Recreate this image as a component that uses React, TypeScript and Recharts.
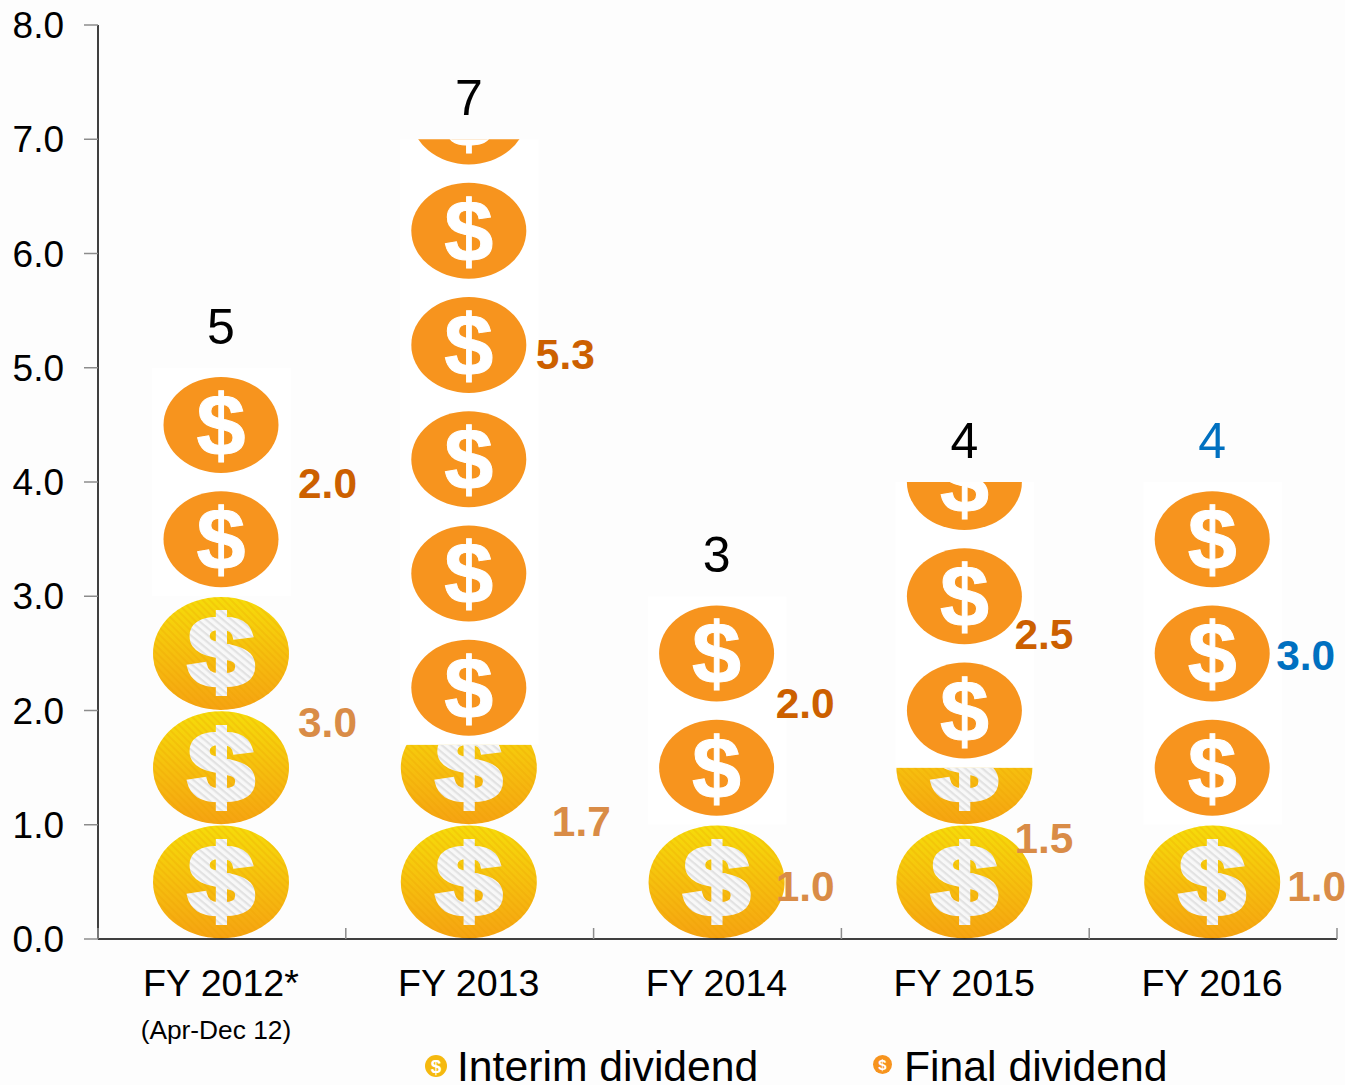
import { BarChart, Bar, XAxis, YAxis, Legend, LabelList } from "recharts";

const categories = ["FY 2012*", "FY 2013", "FY 2014", "FY 2015", "FY 2016"];
const subLabels = ["(Apr-Dec 12)", "", "", "", ""];
const interimValues = [3.0, 1.7, 1.0, 1.5, 1.0];
const finalValues = [2.0, 5.3, 2.0, 2.5, 3.0];
const totals = [5, 7, 3, 4, 4];
const yTicks = [0, 1, 2, 3, 4, 5, 6, 7, 8];

// hand placed value labels, relative to the bar's centre and the top of its segment
const interimLabelOffsets = [
  [106, 126],
  [112, 77],
  [88, 62],
  [79, 71],
  [104, 62],
];
const finalLabelOffsets = [
  [106, 116],
  [96, 215],
  [88, 107],
  [79, 152],
  [93, 173],
];

const totalColors = ["#000", "#000", "#000", "#000", "#0070c0"];
const finalLabelColors = ["#cc6000", "#cc6000", "#cc6000", "#cc6000", "#0070c0"];
const interimLabelColor = "#d98c47";

const FONT = "'Liberation Sans', Arial, sans-serif";
const WIDTH = 1345;
const HEIGHT = 1085;
const PLOT_WIDTH = 1239;

const chartData = categories.map((name, i) => ({
  name,
  sub: subLabels[i],
  interim: interimValues[i],
  final: finalValues[i],
  total: totals[i],
}));

const InterimCoins = (props: any) => {
  const { x, y, width, height, index, value } = props;
  const v = Array.isArray(value) ? value[1] - value[0] : value;
  const unit = height / v;
  const cx = x + width / 2 - 0.5;
  const bottom = y + height;
  const coins = Array.from({ length: Math.ceil(v) }, (_, i) => bottom - (i + 0.5) * unit);
  return (
    <g clipPath={`url(#clip-interim-${index})`}>
      <clipPath id={`clip-interim-${index}`}>
        <rect x={x - 2} y={y} width={width + 4} height={height} />
      </clipPath>
      {coins.map((cy) => (
        <g key={cy}>
          <ellipse cx={cx} cy={cy} rx={68} ry={56.5} fill="url(#interimGrad)" />
          <ellipse cx={cx} cy={cy} rx={68} ry={56.5} fill="url(#coinStripes)" />
          <text
            transform={`translate(${cx},${cy + 34}) scale(1.2,1)`}
            textAnchor="middle"
            fontFamily={FONT}
            fontWeight="bold"
            fontSize={100}
            fill="url(#dollarStripes)"
            stroke="url(#dollarStripes)"
            strokeWidth={4}
          >
            $
          </text>
        </g>
      ))}
    </g>
  );
};

const FinalCoins = (props: any) => {
  const { x, y, width, height, index, value } = props;
  const v = Array.isArray(value) ? value[1] - value[0] : value;
  const unit = height / v;
  const cx = x + width / 2 - 0.5;
  const bottom = y + height;
  const coins = Array.from({ length: Math.ceil(v) }, (_, i) => bottom - (i + 0.5) * unit);
  return (
    <g clipPath={`url(#clip-final-${index})`}>
      <clipPath id={`clip-final-${index}`}>
        <rect x={x - 1} y={y} width={width + 2} height={height} />
      </clipPath>
      <rect x={x - 1} y={y} width={width + 2} height={height} fill="#fff" />
      {coins.map((cy) => (
        <g key={cy}>
          <ellipse cx={cx} cy={cy} rx={57.5} ry={48} fill="#f7941e" />
          <text
            x={cx}
            y={cy + 31}
            textAnchor="middle"
            fontFamily={FONT}
            fontWeight="bold"
            fontSize={88}
            fill="#fff"
            stroke="#fff"
            strokeWidth={1}
          >
            $
          </text>
        </g>
      ))}
    </g>
  );
};

const sideLabel = (offsets: number[][], colorOf: (i: number) => string, values: number[]) => (props: any) => {
  const { x, y, width, index } = props;
  const [dx, dy] = offsets[index];
  return (
    <text
      x={x + width / 2 + dx}
      y={y + dy}
      textAnchor="middle"
      dominantBaseline="central"
      fontFamily={FONT}
      fontWeight="bold"
      fontSize={42.4}
      fill={colorOf(index)}
    >
      {values[index].toFixed(1)}
    </text>
  );
};

const TotalLabel = (props: any) => {
  const { x, y, width, index } = props;
  return (
    <text
      x={x + width / 2 - 0.5}
      y={y - 41}
      textAnchor="middle"
      dominantBaseline="central"
      fontFamily={FONT}
      fontSize={50}
      fill={totalColors[index]}
    >
      {totals[index]}
    </text>
  );
};

const CategoryTick = (props: any) => {
  const { x, y, index, payload } = props;
  const band = PLOT_WIDTH / categories.length;
  const edges = index === categories.length - 1 ? [x - band / 2, x + band / 2] : [x - band / 2];
  return (
    <g>
      {edges.map((ex) => (
        <line key={ex} x1={ex} x2={ex} y1={y} y2={y - 11} stroke="#8c8c8c" strokeWidth={1.5} />
      ))}
      <text x={x - 1} y={y + 57} textAnchor="middle" fontFamily={FONT} fontSize={37.6} fill="#000">
        {payload.value}
      </text>
      {subLabels[index] ? (
        <text x={x - 6} y={y + 100} textAnchor="middle" fontFamily={FONT} fontSize={26.3} fill="#000">
          {subLabels[index]}
        </text>
      ) : null}
    </g>
  );
};

const LegendCoin = ({ fill, r, size }: { fill: string; r: number; size: number }) => (
  <svg width={r * 2} height={r * 2} style={{ position: "absolute", left: 0, top: 0 }}>
    <circle cx={r} cy={r} r={r} fill={fill} />
    <text
      x={r}
      y={r + size * 0.35}
      textAnchor="middle"
      fontFamily={FONT}
      fontWeight="bold"
      fontSize={size}
      fill="#fff"
    >
      $
    </text>
  </svg>
);

const LegendContent = (props: any) => {
  const items = props.payload || [];
  const spots = [
    { icon: 425, text: 457, r: 11, size: 19, fill: "#f5b90f" },
    { icon: 873, text: 904, r: 9.5, size: 15, fill: "#f7941e" },
  ];
  return (
    <div style={{ position: "relative", width: WIDTH, height: 45 }}>
      {items.map((item: any, i: number) => {
        const s = spots[i];
        return (
          <div key={item.value}>
            <div style={{ position: "absolute", left: s.icon, top: 15 }}>
              <LegendCoin fill={s.fill} r={s.r} size={s.size} />
            </div>
            <span
              style={{
                position: "absolute",
                left: s.text,
                top: 7,
                fontFamily: FONT,
                fontSize: 42.7,
                lineHeight: "38px",
                color: "#000",
                whiteSpace: "nowrap",
              }}
            >
              {item.value}
            </span>
          </div>
        );
      })}
    </div>
  );
};

export default function App() {
  return (
    <div style={{ position: "absolute", left: 0, top: 0, width: WIDTH, height: HEIGHT, background: "#fdfdfd", overflow: "hidden" }}>
      <BarChart
        width={WIDTH}
        height={HEIGHT}
        data={chartData}
        margin={{ top: 25, right: 8, left: 0, bottom: 0 }}
        barSize={137}
      >
        <defs>
          <linearGradient id="interimGrad" x1="0" y1="0" x2="0" y2="1">
            <stop offset="0%" stopColor="#f6dc0a" />
            <stop offset="100%" stopColor="#f6a312" />
          </linearGradient>
          <pattern id="coinStripes" width="5" height="5" patternUnits="userSpaceOnUse" patternTransform="rotate(45)">
            <rect width="5" height="2" fill="#e89a00" fillOpacity={0.22} />
          </pattern>
          <pattern id="dollarStripes" width="5" height="5" patternUnits="userSpaceOnUse" patternTransform="rotate(45)">
            <rect width="5" height="5" fill="#f8f8f8" />
            <rect width="5" height="2" fill="#e2e2e2" />
          </pattern>
        </defs>
        <XAxis
          dataKey="name"
          height={146}
          tickLine={false}
          tickSize={0}
          tickMargin={0}
          interval={0}
          axisLine={{ stroke: "#000", strokeWidth: 1.5 }}
          tick={<CategoryTick />}
        />
        <YAxis
          width={98}
          domain={[0, 8]}
          ticks={yTicks}
          tickSize={14}
          tickMargin={20}
          interval={0}
          tickFormatter={(v: number) => v.toFixed(1)}
          axisLine={{ stroke: "#000", strokeWidth: 1.5 }}
          tickLine={{ stroke: "#8c8c8c", strokeWidth: 1.5 }}
          tick={{ fill: "#000", fontFamily: FONT, fontSize: 37 }}
        />
        <Legend
          verticalAlign="middle"
          itemSorter={null}
          content={<LegendContent />}
          wrapperStyle={{ top: 1040, left: 0, width: WIDTH }}
        />
        <Bar
          dataKey="interim"
          name="Interim dividend"
          stackId="a"
          fill="#f5b90f"
          shape={<InterimCoins />}
          isAnimationActive={false}
        >
          <LabelList
            dataKey="interim"
            content={sideLabel(interimLabelOffsets, () => interimLabelColor, interimValues)}
          />
        </Bar>
        <Bar
          dataKey="final"
          name="Final dividend"
          stackId="a"
          fill="#f7941e"
          shape={<FinalCoins />}
          isAnimationActive={false}
        >
          <LabelList
            dataKey="final"
            content={sideLabel(finalLabelOffsets, (i) => finalLabelColors[i], finalValues)}
          />
          <LabelList dataKey="total" content={<TotalLabel />} />
        </Bar>
      </BarChart>
    </div>
  );
}
